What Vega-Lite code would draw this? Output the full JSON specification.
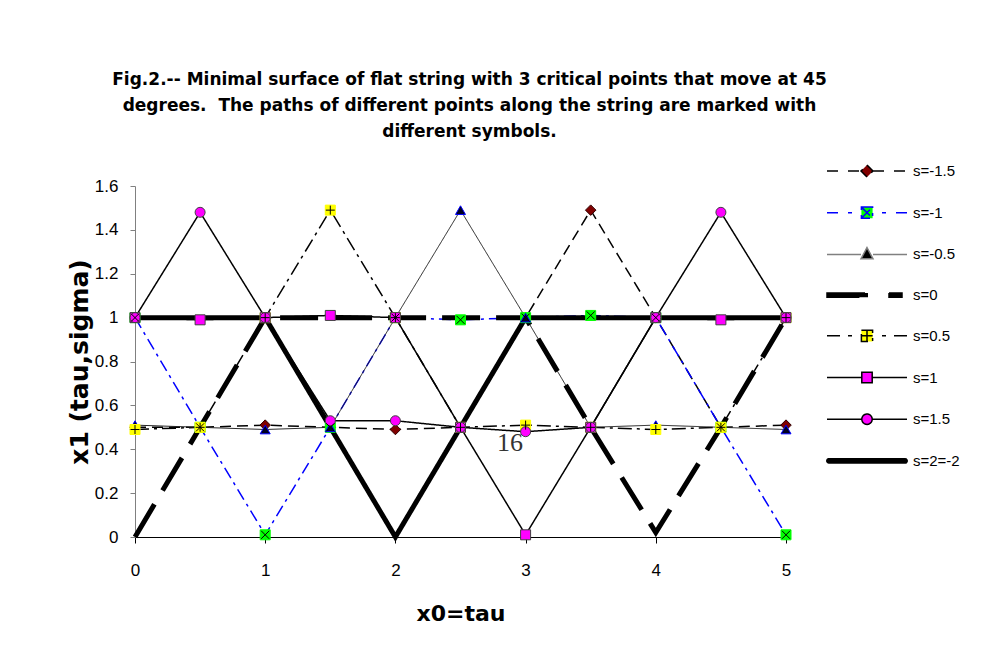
{
  "$schema": "https://vega.github.io/schema/vega-lite/v6.json",
  "width": 651,
  "height": 351,
  "autosize": {"type": "none"},
  "padding": {"left": 135, "top": 186, "right": 210, "bottom": 118},
  "background": "white",
  "config": {"view": {"stroke": null}, "font": "Liberation Sans"},
  "title": {
    "text": [
      "Fig.2.-- Minimal surface of flat string with 3 critical points that move at 45",
      "degrees.\u00a0 The paths of different points along the string are marked with",
      "different symbols."
    ],
    "font": "DejaVu Sans",
    "fontSize": 17,
    "fontWeight": "bold",
    "lineHeight": 26,
    "color": "#000000",
    "offset": 4,
    "frame": "group",
    "anchor": "middle",
    "dx": 9
  },
  "data": {
    "values": [
      {"series": "s=-1.5", "tau": 0, "x1": 0.5},
      {"series": "s=-1.5", "tau": 0.5, "x1": 0.5},
      {"series": "s=-1.5", "tau": 1, "x1": 0.51},
      {"series": "s=-1.5", "tau": 1.5, "x1": 0.5},
      {"series": "s=-1.5", "tau": 2, "x1": 0.49},
      {"series": "s=-1.5", "tau": 2.5, "x1": 0.5},
      {"series": "s=-1.5", "tau": 3, "x1": 1.0},
      {"series": "s=-1.5", "tau": 3.5, "x1": 1.49},
      {"series": "s=-1.5", "tau": 4, "x1": 1.0},
      {"series": "s=-1.5", "tau": 4.5, "x1": 0.5},
      {"series": "s=-1.5", "tau": 5, "x1": 0.51},
      {"series": "s=-1", "tau": 0, "x1": 1.0},
      {"series": "s=-1", "tau": 0.5, "x1": 0.5},
      {"series": "s=-1", "tau": 1, "x1": 0.01},
      {"series": "s=-1", "tau": 1.5, "x1": 0.5},
      {"series": "s=-1", "tau": 2, "x1": 1.0},
      {"series": "s=-1", "tau": 2.5, "x1": 0.99},
      {"series": "s=-1", "tau": 3, "x1": 1.0},
      {"series": "s=-1", "tau": 3.5, "x1": 1.01},
      {"series": "s=-1", "tau": 4, "x1": 1.0},
      {"series": "s=-1", "tau": 4.5, "x1": 0.5},
      {"series": "s=-1", "tau": 5, "x1": 0.01},
      {"series": "s=-0.5", "tau": 0, "x1": 0.51},
      {"series": "s=-0.5", "tau": 0.5, "x1": 0.5},
      {"series": "s=-0.5", "tau": 1, "x1": 0.49},
      {"series": "s=-0.5", "tau": 1.5, "x1": 0.5},
      {"series": "s=-0.5", "tau": 2, "x1": 1.0},
      {"series": "s=-0.5", "tau": 2.5, "x1": 1.49},
      {"series": "s=-0.5", "tau": 3, "x1": 1.0},
      {"series": "s=-0.5", "tau": 3.5, "x1": 0.5},
      {"series": "s=-0.5", "tau": 4, "x1": 0.51},
      {"series": "s=-0.5", "tau": 4.5, "x1": 0.5},
      {"series": "s=-0.5", "tau": 5, "x1": 0.49},
      {"series": "s=0", "tau": 0, "x1": 0.0},
      {"series": "s=0", "tau": 0.5, "x1": 0.5},
      {"series": "s=0", "tau": 1, "x1": 1.0},
      {"series": "s=0", "tau": 1.5, "x1": 1.0},
      {"series": "s=0", "tau": 2, "x1": 1.0},
      {"series": "s=0", "tau": 2.5, "x1": 1.0},
      {"series": "s=0", "tau": 3, "x1": 1.0},
      {"series": "s=0", "tau": 3.5, "x1": 0.5},
      {"series": "s=0", "tau": 4, "x1": 0.02},
      {"series": "s=0", "tau": 4.5, "x1": 0.5},
      {"series": "s=0", "tau": 5, "x1": 1.0},
      {"series": "s=0.5", "tau": 0, "x1": 0.49},
      {"series": "s=0.5", "tau": 0.5, "x1": 0.5},
      {"series": "s=0.5", "tau": 1, "x1": 1.0},
      {"series": "s=0.5", "tau": 1.5, "x1": 1.49},
      {"series": "s=0.5", "tau": 2, "x1": 1.0},
      {"series": "s=0.5", "tau": 2.5, "x1": 0.5},
      {"series": "s=0.5", "tau": 3, "x1": 0.51},
      {"series": "s=0.5", "tau": 3.5, "x1": 0.5},
      {"series": "s=0.5", "tau": 4, "x1": 0.49},
      {"series": "s=0.5", "tau": 4.5, "x1": 0.5},
      {"series": "s=0.5", "tau": 5, "x1": 1.0},
      {"series": "s=1", "tau": 0, "x1": 1.0},
      {"series": "s=1", "tau": 0.5, "x1": 0.99},
      {"series": "s=1", "tau": 1, "x1": 1.0},
      {"series": "s=1", "tau": 1.5, "x1": 1.01},
      {"series": "s=1", "tau": 2, "x1": 1.0},
      {"series": "s=1", "tau": 2.5, "x1": 0.5},
      {"series": "s=1", "tau": 3, "x1": 0.01},
      {"series": "s=1", "tau": 3.5, "x1": 0.5},
      {"series": "s=1", "tau": 4, "x1": 1.0},
      {"series": "s=1", "tau": 4.5, "x1": 0.99},
      {"series": "s=1", "tau": 5, "x1": 1.0},
      {"series": "s=1.5", "tau": 0, "x1": 1.0},
      {"series": "s=1.5", "tau": 0.5, "x1": 1.48},
      {"series": "s=1.5", "tau": 1, "x1": 1.0},
      {"series": "s=1.5", "tau": 1.5, "x1": 0.53},
      {"series": "s=1.5", "tau": 2, "x1": 0.53},
      {"series": "s=1.5", "tau": 2.5, "x1": 0.5},
      {"series": "s=1.5", "tau": 3, "x1": 0.48},
      {"series": "s=1.5", "tau": 3.5, "x1": 0.5},
      {"series": "s=1.5", "tau": 4, "x1": 1.0},
      {"series": "s=1.5", "tau": 4.5, "x1": 1.48},
      {"series": "s=1.5", "tau": 5, "x1": 1.0},
      {"series": "s=2=-2", "tau": 0, "x1": 1.0},
      {"series": "s=2=-2", "tau": 0.5, "x1": 1.0},
      {"series": "s=2=-2", "tau": 1, "x1": 1.0},
      {"series": "s=2=-2", "tau": 1.5, "x1": 0.5},
      {"series": "s=2=-2", "tau": 2, "x1": 0.0},
      {"series": "s=2=-2", "tau": 2.5, "x1": 0.5},
      {"series": "s=2=-2", "tau": 3, "x1": 1.0},
      {"series": "s=2=-2", "tau": 3.5, "x1": 1.0},
      {"series": "s=2=-2", "tau": 4, "x1": 1.0},
      {"series": "s=2=-2", "tau": 4.5, "x1": 1.0},
      {"series": "s=2=-2", "tau": 5, "x1": 1.0}
    ]
  },
  "layer": [
    {
      "mark": {"type": "point", "filled": true, "opacity": 0},
      "encoding": {
        "x": {
          "field": "tau", "type": "quantitative",
          "scale": {"domain": [0, 5], "nice": false, "zero": false},
          "axis": {
            "values": [0, 1, 2, 3, 4, 5], "format": "d", "title": "x0=tau",
            "titleFont": "DejaVu Sans", "titleFontSize": 22, "titleFontWeight": "bold", "titleColor": "#000000", "titlePadding": 25,
            "labelFont": "Liberation Sans", "labelFontSize": 17, "labelColor": "#000000", "labelPadding": 19, "labelFlush": false, "labelOverlap": false,
            "tickSize": 6, "tickColor": "#000000", "domainColor": "#000000", "grid": false
          }
        },
        "y": {
          "field": "x1", "type": "quantitative",
          "scale": {"domain": [0, 1.6], "nice": false},
          "axis": {
            "values": [0, 0.2, 0.4, 0.6, 0.8, 1, 1.2, 1.4, 1.6], "format": "~g", "title": "x1 (tau,sigma)",
            "titleFont": "DejaVu Sans", "titleFontSize": 25, "titleFontWeight": "bold", "titleColor": "#000000", "titlePadding": 2,
            "labelFont": "Liberation Sans", "labelFontSize": 17, "labelColor": "#000000", "labelPadding": 12, "labelFlush": false, "labelOverlap": false,
            "tickSize": 5, "tickColor": "#808080", "domainColor": "#808080", "grid": false
          }
        },
        "fill": {
          "field": "series", "type": "nominal",
          "scale": {
            "domain": ["s=-1.5", "s=-1", "s=-0.5", "s=0", "s=0.5", "s=1", "s=1.5", "s=2=-2"],
            "range": ["#800000", "#00ff00", "#000000", "#000000", "#ffff00", "#ff00ff", "#ff00ff", "#000000"]
          },
          "legend": {
            "orient": "none", "legendX": 706, "legendY": -41, "title": null, "padding": 0,
            "labelFont": "Liberation Sans", "labelFontSize": 15, "labelColor": "#000000",
            "symbolSize": 2500, "symbolOpacity": 1, "symbolStrokeWidth": 1.5, "rowPadding": 6.7, "labelOffset": 20, "symbolOffset": 0
          }
        },
        "stroke": {
          "field": "series", "type": "nominal",
          "scale": {
            "domain": ["s=-1.5", "s=-1", "s=-0.5", "s=0", "s=0.5", "s=1", "s=1.5", "s=2=-2"],
            "range": ["#000000", "#0000ff", "#808080", "#000000", "#000000", "#000000", "#000000", "#000000"]
          },
          "legend": {
            "orient": "none", "legendX": 706, "legendY": -41, "title": null, "padding": 0,
            "labelFont": "Liberation Sans", "labelFontSize": 15, "labelColor": "#000000",
            "symbolSize": 2500, "symbolOpacity": 1, "symbolStrokeWidth": 1.5, "rowPadding": 6.7, "labelOffset": 20, "symbolOffset": 0
          }
        },
        "shape": {
          "field": "series", "type": "nominal",
          "scale": {
            "domain": ["s=-1.5", "s=-1", "s=-0.5", "s=0", "s=0.5", "s=1", "s=1.5", "s=2=-2"],
            "range": [
              "M-1.6,0H-1.08M-0.76,0H-0.24M0.24,0H0.76M1.08,0H1.6M0,-0.24L0.24,0L0,0.24L-0.24,0Z",
              "M-1.6,0H-1.16M-0.76,0H-0.6M0.6,0H0.76M1.16,0H1.6M-0.224,-0.224H0.224V0.224H-0.224ZM-0.224,-0.224L0.224,0.224M-0.224,0.224L0.224,-0.224",
              "M-1.6,0H-0.24M0.24,0H1.6M0,-0.272L0.24,0.176L-0.24,0.176Z",
              "M-1.6,-0.088H0.04V0.088H-1.6ZM0.88,-0.088H1.4V0.088H0.88Z",
              "M-1.6,0H-1.08M-0.76,0H-0.6M0.6,0H0.76M1.08,0H1.6M-0.224,-0.224H0.224V0.224H-0.224ZM0,-0.224V0.224M-0.224,0H0.224",
              "M-1.6,0H-0.208M0.208,0H1.6M-0.208,-0.208H0.208V0.208H-0.208Z",
              "M-1.6,0H-0.208M0.208,0H1.6M0.208,0A0.208,0.208,0,1,1,-0.208,0A0.208,0.208,0,1,1,0.208,0Z",
              "M-1.52,-0.088H1.52A0.088,0.088,0,0,1,1.52,0.088H-1.52A0.088,0.088,0,0,1,-1.52,-0.088Z"
            ]
          },
          "legend": {
            "orient": "none", "legendX": 706, "legendY": -41, "title": null, "padding": 0,
            "labelFont": "Liberation Sans", "labelFontSize": 15, "labelColor": "#000000",
            "symbolSize": 2500, "symbolOpacity": 1, "symbolStrokeWidth": 1.5, "rowPadding": 6.7, "labelOffset": 20, "symbolOffset": 0
          }
        }
      }
    },
    {
      "data": {"values": [{"tau": 2.88, "x1": 0.43, "label": "16"}]},
      "mark": {"type": "text", "font": "Liberation Serif", "fontSize": 26, "color": "#333333"},
      "encoding": {
        "x": {"field": "tau", "type": "quantitative"},
        "y": {"field": "x1", "type": "quantitative"},
        "text": {"field": "label", "type": "nominal"}
      }
    },
    {
      "transform": [{"filter": {"field": "series", "oneOf": ["s=-1.5", "s=-1", "s=0.5", "s=1", "s=1.5"]}}],
      "mark": {"type": "line", "strokeWidth": 1.5},
      "encoding": {
        "x": {"field": "tau", "type": "quantitative"},
        "y": {"field": "x1", "type": "quantitative"},
        "color": {
          "field": "series", "type": "nominal",
          "scale": {
            "domain": ["s=-1.5", "s=-1", "s=-0.5", "s=0", "s=0.5", "s=1", "s=1.5", "s=2=-2"],
            "range": ["#000000", "#0000ff", "#202020", "#000000", "#000000", "#000000", "#000000", "#000000"]
          },
          "legend": null
        },
        "strokeDash": {
          "field": "series", "type": "nominal",
          "scale": {
            "domain": ["s=-1.5", "s=-1", "s=-0.5", "s=0", "s=0.5", "s=1", "s=1.5", "s=2=-2"],
            "range": [[11, 6], [12, 5, 3, 5], [1, 0], [38, 16], [14, 5, 3, 5], [1, 0], [1, 0], [1, 0]]
          },
          "legend": null
        },
        "order": {"field": "tau", "type": "quantitative"}
      }
    },
    {
      "transform": [{"filter": {"field": "series", "equal": "s=-0.5"}}],
      "mark": {"type": "line", "strokeWidth": 1},
      "encoding": {
        "x": {"field": "tau", "type": "quantitative"},
        "y": {"field": "x1", "type": "quantitative"},
        "color": {"field": "series", "type": "nominal", "legend": null},
        "strokeDash": {"field": "series", "type": "nominal", "legend": null},
        "order": {"field": "tau", "type": "quantitative"}
      }
    },
    {
      "transform": [{"filter": {"field": "series", "oneOf": ["s=0", "s=2=-2"]}}],
      "mark": {"type": "line", "strokeWidth": 5},
      "encoding": {
        "x": {"field": "tau", "type": "quantitative"},
        "y": {"field": "x1", "type": "quantitative"},
        "color": {"field": "series", "type": "nominal", "legend": null},
        "strokeDash": {"field": "series", "type": "nominal", "legend": null},
        "order": {"field": "tau", "type": "quantitative"}
      }
    },
    {
      "transform": [{"filter": {"field": "series", "equal": "s=-1.5"}}],
      "mark": {"type": "point", "shape": "diamond", "filled": true, "fill": "#800000", "stroke": "#300000", "strokeWidth": 1, "size": 110, "opacity": 1},
      "encoding": {"x": {"field": "tau", "type": "quantitative"}, "y": {"field": "x1", "type": "quantitative"}}
    },
    {
      "transform": [{"filter": {"field": "series", "equal": "s=-1"}}],
      "mark": {"type": "point", "shape": "square", "filled": true, "fill": "#00ff00", "stroke": "#00ff00", "strokeWidth": 1, "size": 100, "opacity": 1},
      "encoding": {"x": {"field": "tau", "type": "quantitative"}, "y": {"field": "x1", "type": "quantitative"}}
    },
    {
      "transform": [{"filter": {"field": "series", "equal": "s=-0.5"}}],
      "mark": {"type": "point", "shape": "triangle-up", "filled": true, "fill": "#000020", "stroke": "#0000ff", "strokeWidth": 1, "size": 100, "opacity": 1},
      "encoding": {"x": {"field": "tau", "type": "quantitative"}, "y": {"field": "x1", "type": "quantitative"}}
    },
    {
      "transform": [{"filter": {"field": "series", "equal": "s=0.5"}}],
      "mark": {"type": "point", "shape": "square", "filled": true, "fill": "#ffff00", "stroke": "#ffff00", "strokeWidth": 1, "size": 100, "opacity": 1},
      "encoding": {"x": {"field": "tau", "type": "quantitative"}, "y": {"field": "x1", "type": "quantitative"}}
    },
    {
      "transform": [{"filter": {"field": "series", "equal": "s=1"}}],
      "mark": {"type": "point", "shape": "square", "filled": true, "fill": "#ff00ff", "stroke": "#404040", "strokeWidth": 1, "size": 100, "opacity": 1},
      "encoding": {"x": {"field": "tau", "type": "quantitative"}, "y": {"field": "x1", "type": "quantitative"}}
    },
    {
      "transform": [{"filter": {"field": "series", "equal": "s=1.5"}}],
      "mark": {"type": "point", "shape": "circle", "filled": true, "fill": "#ff00ff", "stroke": "#404040", "strokeWidth": 1, "size": 100, "opacity": 1},
      "encoding": {"x": {"field": "tau", "type": "quantitative"}, "y": {"field": "x1", "type": "quantitative"}}
    },
    {
      "transform": [{"filter": {"field": "series", "equal": "s=-1"}}],
      "mark": {"type": "point", "shape": "M-0.8,-0.8L0.8,0.8M-0.8,0.8L0.8,-0.8", "filled": false, "stroke": "#000000", "strokeWidth": 1, "size": 100, "opacity": 1},
      "encoding": {"x": {"field": "tau", "type": "quantitative"}, "y": {"field": "x1", "type": "quantitative"}}
    },
    {
      "transform": [{"filter": {"field": "series", "equal": "s=0.5"}}],
      "mark": {"type": "point", "shape": "M0,-0.9V0.9M-0.9,0H0.9", "filled": false, "stroke": "#000000", "strokeWidth": 1, "size": 100, "opacity": 1},
      "encoding": {"x": {"field": "tau", "type": "quantitative"}, "y": {"field": "x1", "type": "quantitative"}}
    }
  ]
}
